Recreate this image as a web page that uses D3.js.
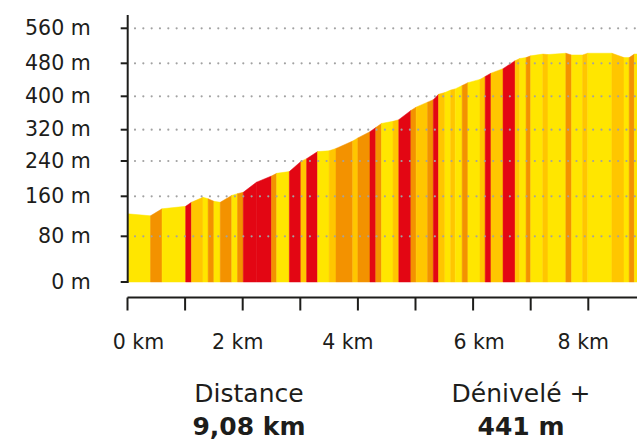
<!DOCTYPE html>
<html>
<head>
<meta charset="utf-8">
<script src="https://cdn.jsdelivr.net/npm/d3@7"></script>
<style>
  html, body { margin: 0; padding: 0; background: #fff; }
  svg { display: block; font-family: 'DejaVu Sans', sans-serif; }
</style>
</head>
<body>
<div id="chart"></div>
<script>
// ---- elevation profile data ----
const TOTAL_KM = 9.08;
const DIST_KM = [0, 0.40, 0.60, 1.01, 1.11, 1.31, 1.40, 1.50, 1.61, 1.81, 1.91, 2.01, 2.24, 2.50, 2.59,
  2.81, 3.01, 3.11, 3.30, 3.50, 3.62, 3.91, 4.00, 4.21, 4.31, 4.41, 4.61, 4.71, 4.92, 5.01, 5.21, 5.31,
  5.40, 5.51, 5.61, 5.69, 5.81, 5.91, 6.12, 6.21, 6.31, 6.52, 6.73, 6.81, 6.92, 7.00, 7.21, 7.30, 7.61,
  7.71, 7.90, 7.99, 8.41, 8.62, 8.71, 8.80, 9.08];
const ELEV_M = [125, 121, 135, 140, 148, 158, 155, 150, 148, 162, 166, 169, 192, 206, 212,
  216, 239, 246, 264, 266, 272, 291, 299, 315, 325, 335, 340, 344, 366, 374, 386, 392,
  405, 409, 415, 418, 426, 433, 441, 448, 456, 467, 486, 491, 493, 497, 501, 500, 503,
  499, 499, 503, 503, 493, 493, 501, 502];
// slope class of each stretch between two points: Y easy, L moderate, O hard, R steep
const SLOPE_CLASS = ['Y', 'O', 'Y', 'R', 'L', 'Y', 'O', 'Y', 'O', 'Y', 'O', 'R', 'R', 'O', 'Y',
  'R', 'L', 'R', 'Y', 'L', 'O', 'L', 'O', 'R', 'O', 'Y', 'L', 'R', 'O', 'L', 'O', 'R',
  'L', 'Y', 'L', 'Y', 'O', 'Y', 'L', 'R', 'L', 'R', 'L', 'Y', 'O', 'Y', 'L', 'Y', 'O',
  'Y', 'L', 'Y', 'L', 'Y', 'O', 'Y'];

const Y_TICKS = [0, 80, 160, 240, 320, 400, 480, 560];
const X_TICKS = [0, 1, 2, 3, 4, 5, 6, 7, 8];
const X_LABELS = [0, 2, 4, 6, 8];
const STATS = [
  { label: 'Distance', value: '9,08 km' },
  { label: 'Dénivelé +', value: '441 m' },
];

// ---- layout ----
const W = 637, H = 440;
const INK = '#1d1d1b';
const COLORS = { Y: '#FFE600', L: '#FFC600', O: '#F39200', R: '#E30613' };
// the source axis is not evenly spaced, so the scale is polylinear
const Y_RANGE = [282, 236.3, 196.3, 161, 129.7, 96.3, 63.3, 28.3];
const LABEL_NUDGE = [11, -5, -10, 6, -5];
const STAT_X = [249, 521];

const svg = d3.select('#chart').append('svg')
  .attr('width', W).attr('height', H);

const x = d3.scaleLinear().domain([0, TOTAL_KM]).range([127.5, 127.5 + TOTAL_KM * 57.6]);
const y = d3.scaleLinear().domain(Y_TICKS).range(Y_RANGE);

// ---- coloured profile, one band per stretch ----
const segments = SLOPE_CLASS.map((c, i) => ({
  c,
  pts: [{ km: DIST_KM[i], m: ELEV_M[i] }, { km: DIST_KM[i + 1], m: ELEV_M[i + 1] }],
}));
const area = d3.area().x(d => x(d.km)).y0(y(0)).y1(d => y(d.m));

svg.append('g').selectAll('path')
  .data(segments)
  .join('path')
  .attr('d', d => area(d.pts))
  .attr('fill', d => COLORS[d.c])
  .attr('stroke', d => COLORS[d.c])
  .attr('stroke-width', 0.5);

// ---- dotted grid on top of the profile ----
svg.append('g').selectAll('line')
  .data(Y_TICKS.filter(t => t > 0))
  .join('line')
  .attr('x1', 135).attr('x2', W)
  .attr('y1', d => y(d)).attr('y2', d => y(d))
  .attr('stroke', '#a2a2a2')
  .attr('stroke-width', 2.2)
  .attr('stroke-linecap', 'round')
  .attr('stroke-dasharray', '0,8.33');

// ---- y axis ----
const yAxisG = svg.append('g').attr('transform', 'translate(127.7,0)')
  .call(d3.axisLeft(y).tickValues(Y_TICKS).tickSize(7).tickSizeOuter(0).tickPadding(30)
    .offset(0).tickFormat(d => d + ' m'));
yAxisG.select('.domain').remove();
yAxisG.append('line')
  .attr('x1', 0).attr('x2', 0).attr('y1', 15).attr('y2', y(0) + 1)
  .attr('stroke', INK).attr('stroke-width', 2);
yAxisG.selectAll('line').attr('stroke', INK).attr('stroke-width', 2);
yAxisG.selectAll('text')
  .attr('fill', INK)
  .attr('font-size', '20.5px')
  .attr('font-family', "'DejaVu Sans', sans-serif");

// ---- x axis ----
const xAxisG = svg.append('g').attr('transform', 'translate(0,297.5)')
  .call(d3.axisBottom(x).tickValues(X_TICKS).tickSize(13).tickSizeOuter(0).offset(0).tickFormat(''));
xAxisG.selectAll('line,path').attr('stroke', INK).attr('stroke-width', 2);

svg.append('g').selectAll('text')
  .data(X_LABELS)
  .join('text')
  .attr('x', (d, i) => x(d) + LABEL_NUDGE[i])
  .attr('y', 349)
  .attr('text-anchor', 'middle')
  .attr('fill', INK)
  .attr('font-size', '20.5px')
  .text(d => d + ' km');

// ---- summary figures ----
const stat = svg.append('g').selectAll('g')
  .data(STATS)
  .join('g')
  .attr('transform', (d, i) => `translate(${STAT_X[i]},0)`);
stat.append('text')
  .attr('y', 402).attr('text-anchor', 'middle')
  .attr('fill', INK).attr('font-size', '25px')
  .text(d => d.label);
stat.append('text')
  .attr('y', 435).attr('text-anchor', 'middle')
  .attr('fill', INK).attr('font-size', '25px').attr('font-weight', 'bold')
  .text(d => d.value);
</script>
</body>
</html>
